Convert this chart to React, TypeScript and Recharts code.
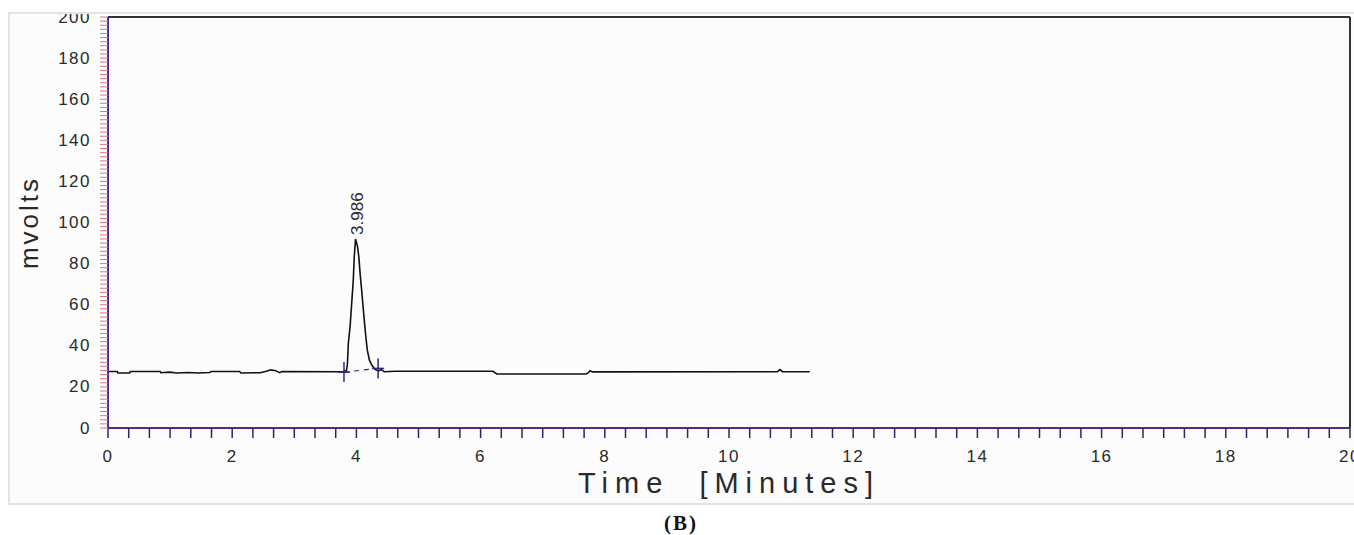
import React from 'react';
import { LineChart, Line, XAxis, YAxis, ReferenceDot, ReferenceLine, Label } from 'recharts';

// ---- data ----
const timeMin = [
  0, 0.15, 0.16, 0.35, 0.36, 0.84, 0.85, 1.0, 1.1, 1.3, 1.45, 1.64, 1.66, 2.12, 2.14, 2.45, 2.55, 2.62, 2.7, 2.76, 2.8,
  3.78, 3.84, 3.855, 3.87, 3.9, 3.925, 3.95, 3.965, 3.986, 4.02, 4.04, 4.06, 4.085, 4.105, 4.125, 4.15, 4.175, 4.21,
  4.25, 4.3, 4.35, 4.4, 4.45, 4.62, 6.2, 6.26, 7.7, 7.74, 7.76, 7.8, 10.78, 10.82, 10.86, 11.3,
];
const mvolts = [
  27.5, 27.5, 26.8, 26.8, 27.5, 27.5, 26.9, 27.2, 26.8, 27.0, 26.8, 27.0, 27.5, 27.5, 26.8, 26.9, 27.6, 28.3, 27.9, 26.9, 27.5,
  27.4, 28.0, 31, 41, 50, 61, 72, 83, 92, 88, 83, 75, 67, 60, 53, 45, 38, 33,
  30.5, 28.5, 27.8, 28.4, 27.4, 27.6, 27.6, 26.3, 26.3, 27.0, 27.9, 27.3, 27.4, 28.4, 27.4, 27.4,
];
const xMajorTicks = [0, 2, 4, 6, 8, 10, 12, 14, 16, 18, 20];
const yMajorTicks = [0, 20, 40, 60, 80, 100, 120, 140, 160, 180, 200];
const xMax = 20;
const yMax = 200;
const peakTime = 3.986;
const peakHeight = 92;
const peakLabel = '3.986';
const peakStartT = 3.8;
const peakStartV = 27.2;
const peakEndT = 4.35;
const peakEndV = 29;

const xTitle = 'Time\u00A0\u00A0[Minutes]';
const yTitle = 'mvolts';
const caption = '(B)';

const data = timeMin.map((t, i) => ({ t, v: mvolts[i] }));
const xMinorTicks = Array.from({ length: 61 }, (_, i) => i / 3);
const yMinorTicks = Array.from({ length: 101 }, (_, i) => i * 2);

const FONT = '"Liberation Sans", Arial, sans-serif';
const X_TS = 10;
const X_TM = 10;
const Y_TS = 8;
const Y_TM = 2;
const AXIS_COLOR = '#4d2d8c';
const MARK_COLOR = '#2a2a70';
const TEXT_COLOR = '#2a2a2a';

const XTick = (props: any) => {
  const { x, y, payload } = props;
  const axisY = y - X_TS - X_TM;
  const v = payload.value;
  const major = xMajorTicks.find((m) => Math.abs(m - v) < 1e-6);
  return (
    <g>
      <line x1={x} x2={x} y1={axisY} y2={axisY + 10} stroke="#3b1f5e" strokeWidth={1.5} />
      {major !== undefined && (
        <text x={x} y={axisY + 34} textAnchor="middle" fontFamily={FONT} fontSize={17} letterSpacing={1.5} fill={TEXT_COLOR}>
          {major}
        </text>
      )}
    </g>
  );
};

const YTick = (props: any) => {
  const { x, y, payload } = props;
  const axisX = x + Y_TS + Y_TM;
  const v = payload.value;
  const major = yMajorTicks.find((m) => Math.abs(m - v) < 1e-6);
  return (
    <g>
      <line x1={axisX - 8} x2={axisX} y1={y} y2={y} stroke="#d9798a" strokeWidth={1} />
      {major !== undefined && (
        <text x={axisX - 17} y={y} textAnchor="end" dominantBaseline="central" fontFamily={FONT} fontSize={17} letterSpacing={1.5} fill={TEXT_COLOR}>
          {major}
        </text>
      )}
    </g>
  );
};

const XTitle = (props: any) => {
  const vb = props.viewBox || {};
  return (
    <text x={vb.x + vb.width / 2} y={vb.y + 65} textAnchor="middle" fontFamily={FONT} fontSize={29} letterSpacing={7} fill={TEXT_COLOR}>
      {xTitle}
    </text>
  );
};

const YTitle = (props: any) => {
  const vb = props.viewBox || {};
  const cx = 28;
  const cy = vb.y + vb.height / 2;
  return (
    <text x={cx} y={cy} transform={`rotate(-90 ${cx} ${cy})`} textAnchor="middle" fontFamily={FONT} fontSize={26} letterSpacing={3} fill={TEXT_COLOR}>
      {yTitle}
    </text>
  );
};

const PeakLabel = (props: any) => {
  const { cx, cy } = props;
  const x = cx + 2;
  const y = cy - 4;
  return (
    <text x={x} y={y} transform={`rotate(-90 ${x} ${y})`} textAnchor="start" dominantBaseline="central" fontFamily={FONT} fontSize={17} fill={TEXT_COLOR}>
      {peakLabel}
    </text>
  );
};

const Cross = (props: any) => {
  const { cx, cy } = props;
  return (
    <g>
      <line x1={cx} x2={cx} y1={cy - 10} y2={cy + 10} stroke={MARK_COLOR} strokeWidth={1.5} />
      <line x1={cx - 6} x2={cx + 6} y1={cy} y2={cy} stroke={MARK_COLOR} strokeWidth={1.5} />
    </g>
  );
};

export default function App() {
  return (
    <div>
      <div
        style={{
          position: 'absolute',
          left: 8,
          top: 12,
          width: 1346,
          height: 493,
          boxSizing: 'border-box',
          borderLeft: '2px solid #e3e3e3',
          borderTop: '2px solid #e3e3e3',
          borderBottom: '2px solid #e3e3e3',
          background: '#fcfcfc',
          overflow: 'hidden',
        }}
      >
        <LineChart width={1344} height={489} data={data} margin={{ top: 3, right: 4, bottom: 0, left: 0 }}>
          <XAxis
            dataKey="t"
            type="number"
            domain={[0, xMax]}
            ticks={xMinorTicks}
            interval={0}
            tickSize={X_TS}
            tickMargin={X_TM}
            tickLine={false}
            tick={(p: any) => <XTick {...p} />}
            axisLine={{ stroke: AXIS_COLOR, strokeWidth: 2 }}
            height={75}
            allowDataOverflow
          >
            <Label content={(p: any) => <XTitle {...p} />} />
          </XAxis>
          <YAxis
            type="number"
            domain={[0, yMax]}
            ticks={yMinorTicks}
            interval={0}
            tickSize={Y_TS}
            tickMargin={Y_TM}
            tickLine={false}
            tick={(p: any) => <YTick {...p} />}
            axisLine={{ stroke: AXIS_COLOR, strokeWidth: 2 }}
            width={98}
            allowDataOverflow
          >
            <Label content={(p: any) => <YTitle {...p} />} />
          </YAxis>
          <ReferenceLine y={yMax} stroke="#333" strokeWidth={2} ifOverflow="visible" />
          <ReferenceLine x={xMax} stroke="#333" strokeWidth={2} ifOverflow="visible" />
          <Line
            dataKey="v"
            type="linear"
            stroke="#111"
            strokeWidth={1.6}
            dot={false}
            activeDot={false}
            isAnimationActive={false}
          />
          <ReferenceLine
            segment={[
              { x: peakStartT, y: peakStartV },
              { x: peakEndT, y: peakEndV },
            ]}
            stroke={MARK_COLOR}
            strokeDasharray="5 5"
            strokeWidth={1.2}
          />
          <ReferenceDot x={peakStartT} y={peakStartV} r={1} shape={(p: any) => <Cross {...p} />} />
          <ReferenceDot x={peakEndT} y={peakEndV} r={1} shape={(p: any) => <Cross {...p} />} />
          <ReferenceDot x={peakTime} y={peakHeight} r={1} shape={(p: any) => <PeakLabel {...p} />} />
        </LineChart>
      </div>
      <div
        style={{
          position: 'absolute',
          left: 0,
          top: 512,
          width: 1362,
          height: 23,
          lineHeight: '23px',
          textAlign: 'center',
          fontFamily: '"Liberation Serif", "Times New Roman", serif',
          fontWeight: 'bold',
          fontSize: 21,
          letterSpacing: 2,
          color: '#111',
        }}
      >
        {caption}
      </div>
    </div>
  );
}
